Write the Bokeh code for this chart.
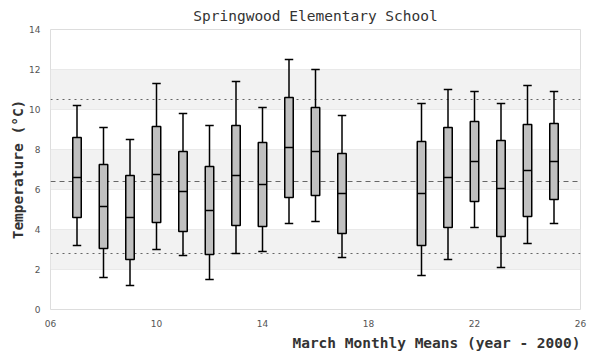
from bokeh.plotting import figure
from bokeh.models import ColumnDataSource, Span, BoxAnnotation, FixedTicker, Range1d, Title
from bokeh.embed import file_html
from bokeh.resources import INLINE

years = [7, 8, 9, 10, 11, 12, 13, 14, 15, 16, 17, 20, 21, 22, 23, 24, 25]
whisker_high = [10.2, 9.1, 8.5, 11.3, 9.8, 9.2, 11.4, 10.1, 12.5, 12.0, 9.7, 10.3, 11.0, 10.9, 10.3, 11.2, 10.9]
q3 = [8.6, 7.25, 6.7, 9.15, 7.9, 7.15, 9.2, 8.35, 10.6, 10.1, 7.8, 8.4, 9.1, 9.4, 8.45, 9.25, 9.3]
median = [6.6, 5.15, 4.6, 6.75, 5.9, 4.95, 6.7, 6.25, 8.1, 7.9, 5.8, 5.8, 6.6, 7.4, 6.05, 6.95, 7.4]
q1 = [4.6, 3.05, 2.5, 4.35, 3.9, 2.75, 4.2, 4.15, 5.6, 5.7, 3.8, 3.2, 4.1, 5.4, 3.65, 4.65, 5.5]
whisker_low = [3.2, 1.6, 1.2, 3.0, 2.7, 1.5, 2.8, 2.9, 4.3, 4.4, 2.6, 1.7, 2.5, 4.1, 2.1, 3.3, 4.3]

upper_ref = 10.5
mean_ref = 6.4
lower_ref = 2.8

x_ticks = [6, 10, 14, 18, 22, 26]
x_tick_labels = ["06", "10", "14", "18", "22", "26"]
y_ticks = [0, 2, 4, 6, 8, 10, 12, 14]
bands = [(2, 4), (6, 8), (10, 12)]

box_w = 0.32

src = ColumnDataSource(dict(
    x=years, hi=whisker_high, q3=q3, med=median, q1=q1, lo=whisker_low,
    xl=[y - box_w / 2 for y in years], xr=[y + box_w / 2 for y in years],
))

p = figure(frame_width=530, frame_height=280, output_backend="svg", toolbar_location=None,
           x_range=Range1d(6, 26), y_range=Range1d(0, 14),
           min_border_left=0, min_border_right=12, min_border_top=0, min_border_bottom=0)

mono = "DejaVu Sans Mono"
p.title.text = "Springwood Elementary School"
p.title.align = "center"
p.title.text_font = mono
p.title.text_font_style = "normal"
p.title.text_font_size = "14.5px"
p.title.text_color = "#333333"
p.title.standoff = 11

p.outline_line_color = "#dddddd"
p.outline_line_width = 1
p.background_fill_color = "white"
p.border_fill_color = "white"

for b0, b1 in bands:
    p.add_layout(BoxAnnotation(bottom=b0, top=b1, fill_color="#f2f2f2", fill_alpha=1.0,
                               line_color=None, level="underlay"))

p.xgrid.visible = False
p.ygrid.ticker = FixedTicker(ticks=y_ticks)
p.ygrid.grid_line_color = "#e0e0e0"
p.ygrid.grid_line_width = 1
p.ygrid.level = "underlay"

for ax in (p.xaxis[0], p.yaxis[0]):
    ax.axis_line_color = None
    ax.major_tick_line_color = None
    ax.minor_tick_line_color = None
    ax.major_tick_out = 0
    ax.major_tick_in = 0
    ax.minor_tick_out = 0
    ax.minor_tick_in = 0
    ax.major_label_text_font = "DejaVu Sans"
    ax.major_label_text_font_size = "9px"
    ax.major_label_text_color = "#555555"

p.xaxis.ticker = FixedTicker(ticks=x_ticks)
p.xaxis.major_label_overrides = {t: l for t, l in zip(x_ticks, x_tick_labels)}
p.xaxis.major_label_standoff = 10

p.yaxis.ticker = FixedTicker(ticks=y_ticks)
p.yaxis.major_label_standoff = 10

xlab = Title(text="March Monthly Means (year - 2000)", align="right", text_font=mono,
             text_font_style="bold", text_font_size="14.5px", text_color="#333333", standoff=7)
p.add_layout(xlab, "below")
ylab = Title(text="Temperature (°C)", align="center", text_font=mono,
             text_font_style="bold", text_font_size="14.5px", text_color="#333333", standoff=2)
p.add_layout(ylab, "left")
pad = Title(text="\u00a0", text_font_size="3.5px", standoff=0)
p.add_layout(pad, "left")

for v, dash in ((upper_ref, "2 4"), (mean_ref, "5 4"), (lower_ref, "2 4")):
    p.add_layout(Span(location=v, dimension="width", line_color="#666666",
                      line_width=1, line_dash=dash, level="underlay"))

lw = 1.5
p.segment(x0="x", y0="q3", x1="x", y1="hi", source=src, line_color="black", line_width=lw)
p.segment(x0="x", y0="q1", x1="x", y1="lo", source=src, line_color="black", line_width=lw)
p.segment(x0="xl", y0="hi", x1="xr", y1="hi", source=src, line_color="black", line_width=lw)
p.segment(x0="xl", y0="lo", x1="xr", y1="lo", source=src, line_color="black", line_width=lw)
p.vbar(x="x", width=box_w, bottom="q1", top="q3", source=src,
       fill_color="#c0c0c0", line_color="black", line_width=lw)
p.segment(x0="xl", y0="med", x1="xr", y1="med", source=src, line_color="black", line_width=lw)

open("out.html", "w").write(file_html(p, INLINE))
